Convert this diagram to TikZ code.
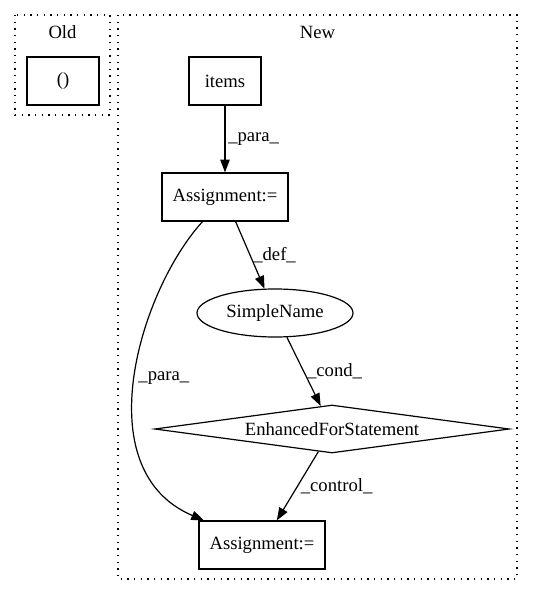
\documentclass[tikz,border=0pt]{standalone}
\usepackage{fontspec}
\setmainfont{Liberation Serif}
\usetikzlibrary{arrows.meta,shapes.geometric}
\newlength{\lw}
\setlength{\lw}{0.9pt}
\tikzstyle{every picture}+=[>={Triangle[length=9.5pt,width=7pt]}]
\tikzstyle{every picture}+=[line width=\lw]
\tikzstyle{every picture}+=[x=0.75pt,y=-0.75pt]
\tikzstyle{every picture}+=[font=\fontsize{14pt}{16pt}\selectfont]
\tikzstyle{ast}=[draw, rectangle, inner sep=0pt, minimum height=36pt]
\tikzstyle{astname}=[draw, ellipse, inner sep=0pt]
\tikzstyle{astname}+=[minimum width=117pt, minimum height=36pt]
\tikzstyle{astloop}=[draw, diamond, aspect=7.4, inner sep=0pt]
\tikzstyle{astloop}+=[minimum width=266pt, minimum height=36pt]
\tikzstyle{cluster}=[dash pattern=on 1pt off 4pt]
\tikzstyle{lbl}=[right, inner sep=2pt]
\begin{document}
\begin{tikzpicture}
\useasboundingbox (0,0) rectangle (533,596);
% clusters
\draw[cluster] (15,15) rectangle (110,115);
\draw[cluster] (118,15) rectangle (517,579);
\node (old) at (62.5,32) {Old};
\node (new) at (317.5,32) {New};

\node[ast, minimum width=54pt] (unit) at (63,81) {()};
\node[ast, minimum width=54pt] (items) at (225,81) {items};
\node[ast, minimum width=94.5pt] (asg1) at (225,197) {Assignment:=};
\node[astname] (sname) at (275,313) {SimpleName};
\node[astloop] (efs) at (332,429) {EnhancedForStatement};
\node[ast, minimum width=94.5pt] (asg2) at (262,545) {Assignment:=};

\path[->]
   (items) edge node[lbl] {\_para\_} (asg1)
   (asg1) edge node[lbl] {\_def\_} (sname)
   (sname) edge node[lbl] {\_cond\_} (efs)
   (efs) edge node[lbl] {\_control\_} (asg2)
;
\draw[->] (asg1) .. controls (140,290) and (85,470) .. node[lbl] {\_para\_} (asg2);
\end{tikzpicture}
\end{document}
